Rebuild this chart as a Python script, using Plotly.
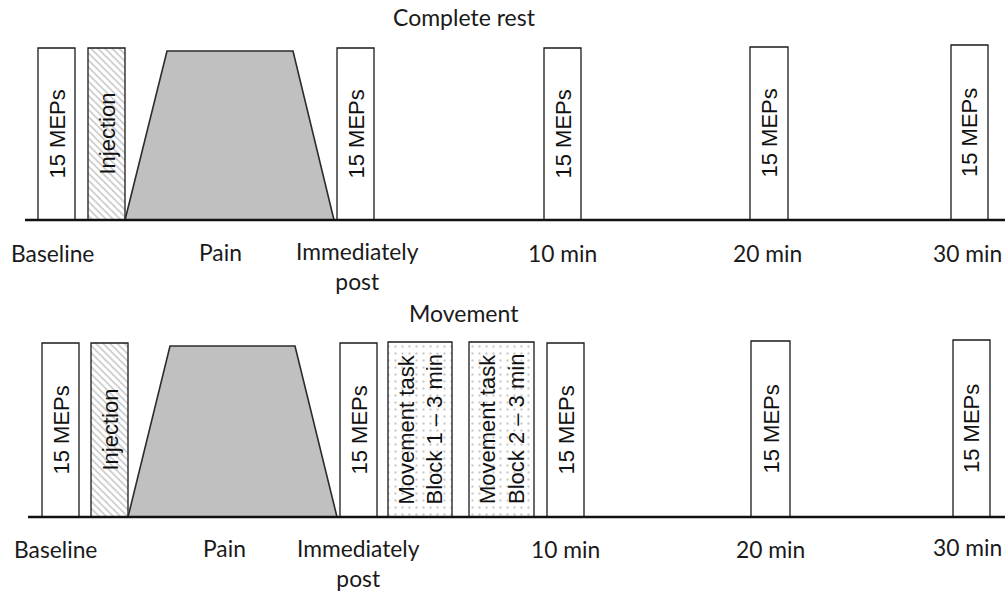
import plotly.graph_objects as go

# ---------------- data (diagram units: x along the timeline, y upward) ----------------
panel_titles = ["Complete rest", "Movement"]
panel_title_x = [464, 464]
panel_title_y = [577, 281]
panel_baseline = [374, 77]
panel_line_start = [25, 28]

time_labels = ["Baseline", "Pain", "Immediately<br>post", "10 min", "20 min", "30 min"]
top_label_x = [52, 220, 357, 562, 767, 967]
bottom_label_x = [55, 224, 358, 565, 770, 967]
top_label_offset = [-33, -32, -46, -33, -33, -33]
bottom_label_offset = [-32, -31, -46, -32, -32, -30]

# top panel boxes
top_box_text = ["15 MEPs", "Injection", "15 MEPs", "15 MEPs", "15 MEPs", "15 MEPs"]
top_box_left = [38, 88, 337, 544, 750, 951]
top_box_right = [75, 125, 374, 581, 788, 988]
top_box_height = [172, 172, 172, 172, 173, 175]
top_box_kind = ["meps", "injection", "meps", "meps", "meps", "meps"]

# bottom panel boxes
bottom_box_text = ["15 MEPs", "Injection", "15 MEPs",
                   "Movement task<br>Block 1 – 3 min", "Movement task<br>Block 2 – 3 min",
                   "15 MEPs", "15 MEPs", "15 MEPs"]
bottom_box_left = [42, 91, 340, 388, 469, 547, 751, 953]
bottom_box_right = [79, 128, 377, 452, 534, 584, 790, 990]
bottom_box_height = [174, 174, 174, 175, 175, 174, 176, 177]
bottom_box_kind = ["meps", "injection", "meps", "task", "task", "meps", "meps", "meps"]

# pain trapezoids: (x at base-left, x at top-left, x at top-right, x at base-right), height
top_pain_x = [125, 167, 293, 334]
top_pain_height = 169
bottom_pain_x = [128, 170, 295, 337]
bottom_pain_height = 171

# ---------------- styles ----------------
W, H = 1005, 594
LABEL_FONT = dict(family="Lato, 'Open Sans', sans-serif", size=22.8, color="#1a1a1a")
TITLE_FONT = dict(family="Lato, 'Open Sans', sans-serif", size=23, color="#1a1a1a")
BOX_FONT = dict(family="'Liberation Sans', Arial, sans-serif", size=22, color="#111111")
pattern_shape = {"meps": "", "injection": "\\", "task": "."}
pattern_fg = {"meps": "#ffffff", "injection": "#8c8c8c", "task": "#9a9a9a"}
pattern_size = {"meps": 8, "injection": 5, "task": 7}
pattern_solid = {"meps": 0.1, "injection": 0.3, "task": 0.09}

fig = go.Figure()
annotations = []

panels = [
    (top_box_text, top_box_left, top_box_right, top_box_height, top_box_kind,
     top_pain_x, top_pain_height, top_label_x, top_label_offset),
    (bottom_box_text, bottom_box_left, bottom_box_right, bottom_box_height, bottom_box_kind,
     bottom_pain_x, bottom_pain_height, bottom_label_x, bottom_label_offset),
]

for p, (texts, lefts, rights, heights, kinds, pain_x, pain_h, lab_x, lab_off) in enumerate(panels):
    base = panel_baseline[p]
    # pain trapezoid
    fig.add_trace(go.Scatter(
        x=[pain_x[0], pain_x[1], pain_x[2], pain_x[3], pain_x[0]],
        y=[base, base + pain_h, base + pain_h, base, base],
        mode="lines", fill="toself", fillcolor="#c0c0c0",
        line=dict(color="#2b2b2b", width=1.6), hoverinfo="skip"))
    # boxes
    centers = [(l + r) / 2 for l, r in zip(lefts, rights)]
    widths = [r - l for l, r in zip(lefts, rights)]
    fig.add_trace(go.Bar(
        x=centers, y=heights, base=[base] * len(heights), width=widths,
        marker=dict(
            color="white",
            line=dict(color="#1a1a1a", width=1.3),
            pattern=dict(shape=[pattern_shape[k] for k in kinds],
                         fgcolor=[pattern_fg[k] for k in kinds],
                         bgcolor="white",
                         size=[pattern_size[k] for k in kinds],
                         solidity=[pattern_solid[k] for k in kinds]),
        ),
        hoverinfo="skip"))
    # box texts
    for t, c, h in zip(texts, centers, heights):
        annotations.append(dict(
            x=c, y=base + h / 2, xref="x", yref="y", text=t, showarrow=False,
            textangle=-90, font=BOX_FONT, align="left",
            xanchor="center", yanchor="middle"))
    # baseline
    fig.add_trace(go.Scatter(
        x=[panel_line_start[p], W], y=[base, base], mode="lines",
        line=dict(color="#111111", width=2.6), hoverinfo="skip"))
    # time labels
    for t, x, off in zip(time_labels, lab_x, lab_off):
        annotations.append(dict(
            x=x, y=base + off, xref="x", yref="y", text=t, showarrow=False,
            font=LABEL_FONT, xanchor="center", yanchor="middle", align="center"))
    # panel title
    annotations.append(dict(
        x=panel_title_x[p], y=panel_title_y[p], xref="x", yref="y",
        text=panel_titles[p], showarrow=False, font=TITLE_FONT,
        xanchor="center", yanchor="middle"))

fig.update_layout(
    width=W, height=H,
    margin=dict(l=0, r=0, t=0, b=0),
    paper_bgcolor="white", plot_bgcolor="white",
    showlegend=False, barmode="overlay",
    xaxis=dict(range=[0, W], visible=False, fixedrange=True),
    yaxis=dict(range=[0, H], visible=False, fixedrange=True),
    annotations=annotations,
)

fig.write_html(
    "out.html",
    config={"displayModeBar": False},
    post_script="document.body.style.margin='0';document.body.style.overflow='hidden';",
)
